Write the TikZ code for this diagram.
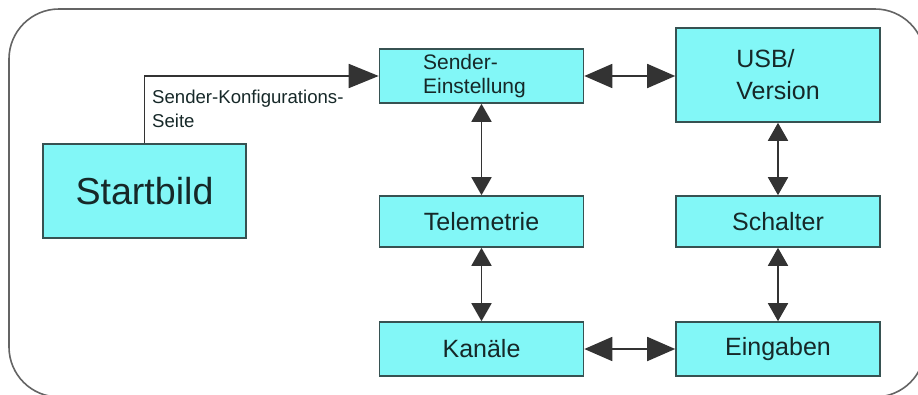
\documentclass[tikz,border=0pt]{standalone}
\usepackage{fontspec}
\setmainfont{Liberation Sans}
\usetikzlibrary{arrows.meta}
\definecolor{boxfill}{RGB}{130,247,247}
\definecolor{boxline}{RGB}{55,82,82}
\definecolor{txt}{RGB}{22,40,40}
\definecolor{framecol}{RGB}{100,100,100}
\begin{document}
\begin{tikzpicture}[x=1pt,y=-1pt,
  box/.style={draw=boxline, line width=1.6pt, fill=boxfill, text=txt, inner sep=0pt,
    minimum width=204pt, minimum height=51pt, font=\fontsize{25}{32}\selectfont, align=left},
  conn/.style={draw=black!80, line width=1.8pt},
  hboth/.style={conn, {Triangle[length=28pt,width=24pt]}-{Triangle[length=28pt,width=24pt]}},
  vboth/.style={conn, {Triangle[length=18pt,width=20pt]}-{Triangle[length=18pt,width=20pt]}},
]
\useasboundingbox (0,0) rectangle (918,394);
\draw[framecol, line width=1.6pt, rounded corners=50pt] (9,9) rectangle (925,397);

\node[box, minimum width=203pt, minimum height=94pt, font=\fontsize{37.6}{40}\selectfont] (start) at (144.5,191) {Startbild};
\node[box, minimum height=54pt, font=\fontsize{21}{24}\selectfont] (send) at (481.5,76) {Sender-\\Einstellung\rule{14pt}{0pt}};
\node[box, minimum height=94pt] (usb) at (778,75) {USB/\\Version};
\node[box] (tele) at (481.5,221.5) {Telemetrie};
\node[box] (schal) at (778,221.5) {Schalter};
\node[box, minimum height=54pt] (kan) at (481.5,349) {Kanäle};
\node[box, minimum height=54pt] (eing) at (778,349) {Eingaben};

\node[anchor=north west, inner sep=0pt, align=left, text=txt,
  font=\fontsize{18.6}{24}\selectfont] (lbl) at (152,89.5) {Sender-Konfigurations-\\Seite};

\draw[conn, -{Triangle[length=30pt,width=24pt]}] (start.north) |- (send.west);
\draw[hboth] (send.east) -- (send.east -| usb.west);
\draw[vboth] (send) -- (tele);
\draw[vboth] (usb) -- (schal);
\draw[vboth] (tele) -- (kan);
\draw[vboth] (schal) -- (eing);
\draw[hboth] (kan) -- (eing);
\end{tikzpicture}
\end{document}
